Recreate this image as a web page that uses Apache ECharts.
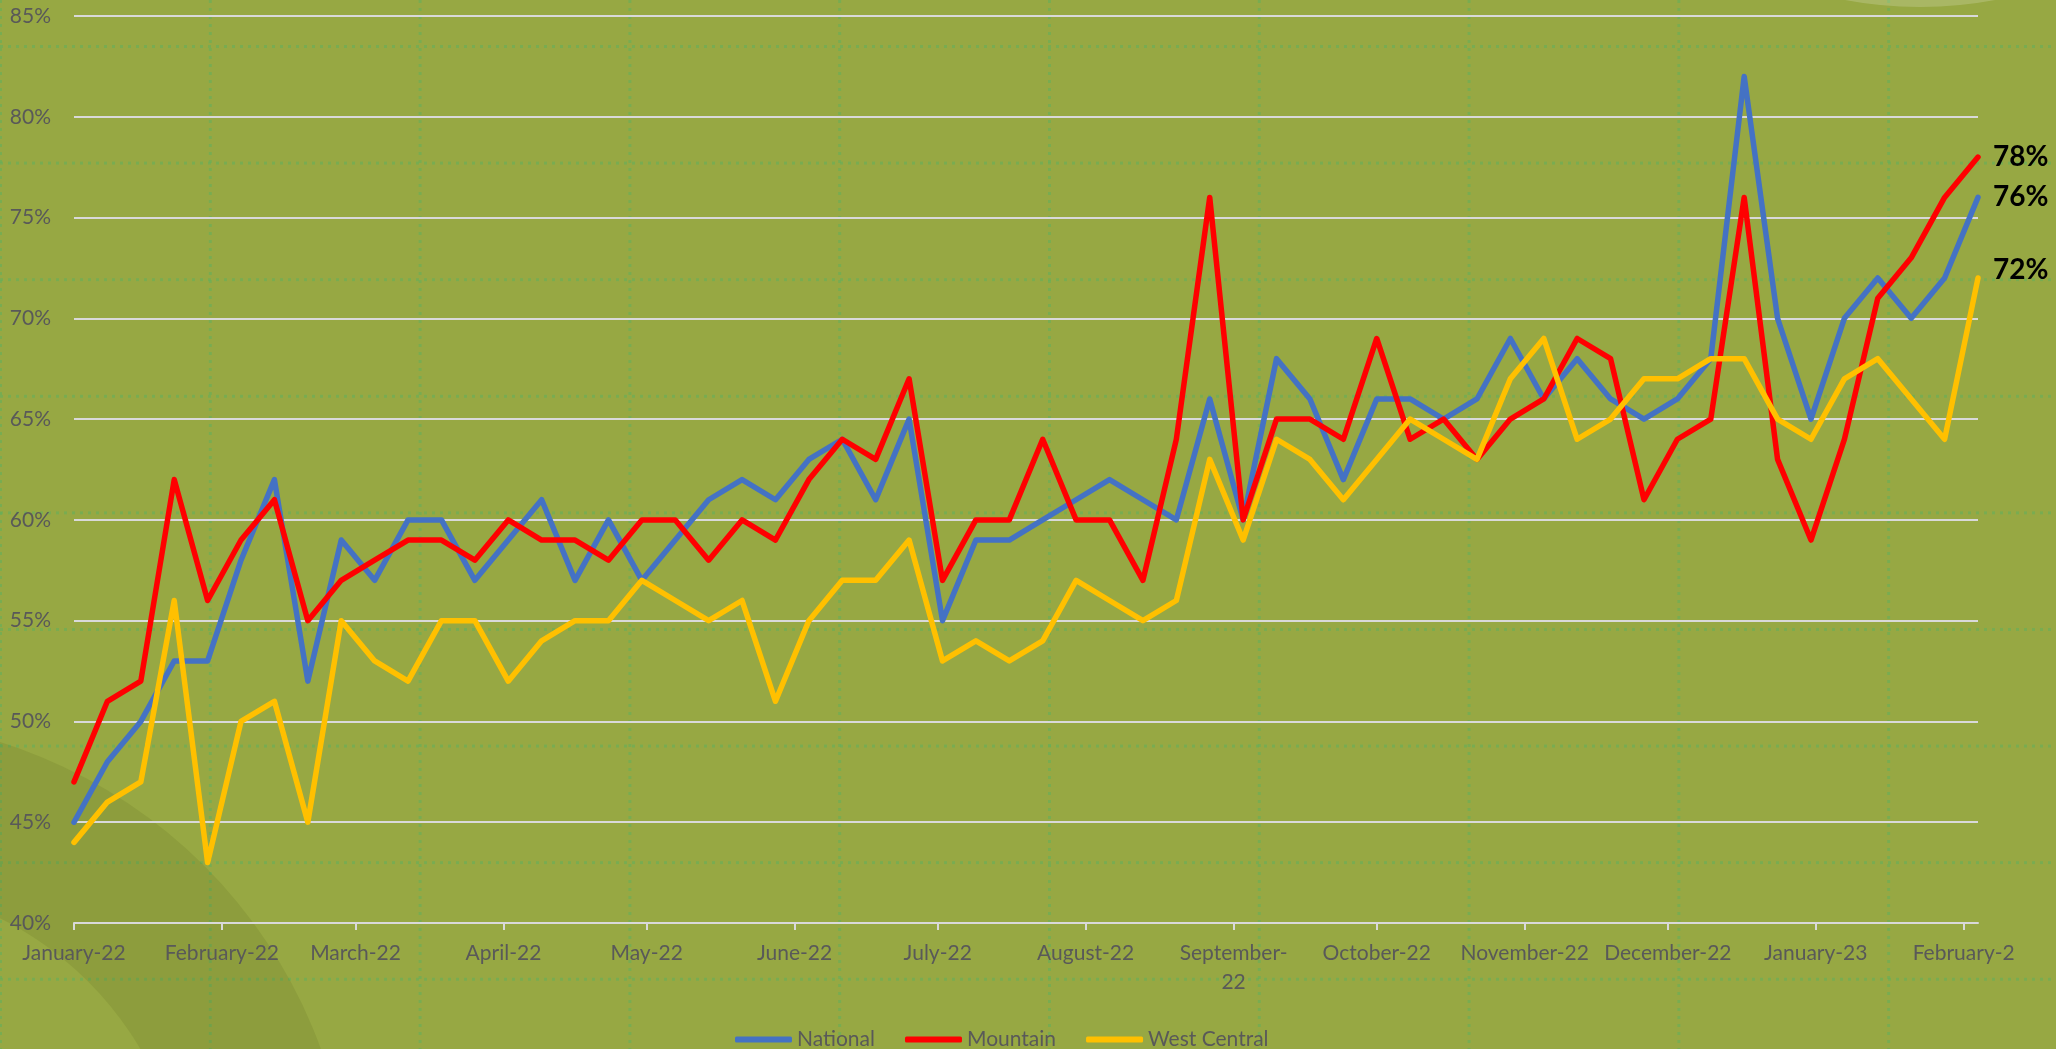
<!DOCTYPE html>
<html>
<head>
<meta charset="utf-8">
<script src="https://cdn.jsdelivr.net/npm/echarts@6/dist/echarts.min.js"></script>
<style>
  html, body { margin: 0; padding: 0; }
  #chart {
    width: 2056px;
    height: 1049px;
    background-color: #97A843;
    background-image:
      radial-gradient(circle at 1.5px 1.5px, rgba(100,175,90,0.6) 1.4px, transparent 1.9px),
      radial-gradient(circle at 1.5px 1.5px, rgba(100,175,90,0.6) 1.4px, transparent 1.9px);
    background-size: 209.8px 8px, 8px 116.6px;
    background-position: -1px 0, 0 45px;
  }
</style>
</head>
<body>
<div id="chart"></div>
<script>
// weekly readings, Jan 2022 - Feb 2023
var weeks = [
  '2022-01-01', '2022-01-08', '2022-01-15', '2022-01-22', '2022-01-29',
  '2022-02-05', '2022-02-12', '2022-02-19', '2022-02-26',
  '2022-03-05', '2022-03-12', '2022-03-19', '2022-03-26',
  '2022-04-02', '2022-04-09', '2022-04-16', '2022-04-23', '2022-04-30',
  '2022-05-07', '2022-05-14', '2022-05-21', '2022-05-28',
  '2022-06-04', '2022-06-11', '2022-06-18', '2022-06-25',
  '2022-07-02', '2022-07-09', '2022-07-16', '2022-07-23', '2022-07-30',
  '2022-08-06', '2022-08-13', '2022-08-20', '2022-08-27',
  '2022-09-03', '2022-09-10', '2022-09-17', '2022-09-24',
  '2022-10-01', '2022-10-08', '2022-10-15', '2022-10-22', '2022-10-29',
  '2022-11-05', '2022-11-12', '2022-11-19', '2022-11-26',
  '2022-12-03', '2022-12-10', '2022-12-17', '2022-12-24', '2022-12-31',
  '2023-01-07', '2023-01-14', '2023-01-21', '2023-01-28',
  '2023-02-04'
];

var national = [45, 48, 50, 53, 53, 58, 62, 52, 59, 57, 60, 60, 57, 59, 61,
  57, 60, 57, 59, 61, 62, 61, 63, 64, 61, 65, 55, 59,
  59, 60, 61, 62, 61, 60, 66, 60, 68, 66, 62, 66,
  66, 65, 66, 69, 66, 68, 66, 65, 66, 68, 82, 70, 65, 70, 72, 70, 72, 76];

var mountain = [47, 51, 52, 62, 56, 59, 61, 55, 57, 58, 59, 59, 58, 60, 59,
  59, 58, 60, 60, 58, 60, 59, 62, 64, 63, 67, 57, 60,
  60, 64, 60, 60, 57, 64, 76, 60, 65, 65, 64, 69,
  64, 65, 63, 65, 66, 69, 68, 61, 64, 65, 76, 63, 59, 64, 71, 73, 76, 78];

var westCentral = [44, 46, 47, 56, 43, 50, 51, 45, 55, 53, 52, 55, 55, 52, 54,
  55, 55, 57, 56, 55, 56, 51, 55, 57, 57, 59, 53, 54,
  53, 54, 57, 56, 55, 56, 63, 59, 64, 63, 61, 63,
  65, 64, 63, 67, 69, 64, 65, 67, 67, 68, 68, 65, 64, 67, 68, 66, 64, 72];

// month ticks on the date axis, with the text as it shows on the chart
var monthTicks = ['2022-01-01', '2022-02-01', '2022-03-01', '2022-04-01', '2022-05-01',
  '2022-06-01', '2022-07-01', '2022-08-01', '2022-09-01', '2022-10-01', '2022-11-01',
  '2022-12-01', '2023-01-01', '2023-02-01'];
var monthLabels = ['January-22', 'February-22', 'March-22', 'April-22', 'May-22',
  'June-22', 'July-22', 'August-22', 'September-\n22', 'October-22', 'November-22',
  'December-22', 'January-23', 'February-2'];

var seriesNames = ['National', 'Mountain', 'West Central'];
var seriesColors = ['#4472C4', '#FF0000', '#FFC000'];

var chart = echarts.init(document.getElementById('chart'));

var tickTimes = monthTicks.map(function (d) { return Date.parse(d); });

function toPoints(values) {
  return weeks.map(function (d, i) { return [Date.parse(d), values[i]]; });
}

var FONT = 'Lato';

function makeSeries(name, values, color, labelOffset) {
  return {
    name: name,
    type: 'line',
    data: toPoints(values),
    showSymbol: false,
    symbol: 'none',
    color: color,
    lineStyle: { width: 5.5, color: color, cap: 'round', join: 'round' },
    endLabel: {
      show: true,
      formatter: function (p) { return p.value[1] + '%'; },
      color: '#000',
      fontWeight: 'bold',
      fontSize: 28,
      fontFamily: FONT,
      distance: 15,
      offset: labelOffset
    }
  };
}

chart.setOption({
  animation: false,
  textStyle: { fontFamily: FONT },
  graphic: [
    {
      type: 'ring',
      z: -10,
      silent: true,
      shape: { cx: -150, cy: 1220, r: 501, r0: 337 },
      style: { fill: 'rgba(60,70,10,0.1)' }
    },
    {
      type: 'circle',
      z: -10,
      silent: true,
      shape: { cx: 1920, cy: -400, r: 407 },
      style: { fill: 'rgba(255,255,255,0.18)' }
    }
  ],
  grid: {
    left: 74,
    right: 78,
    top: 16,
    bottom: 126,
    containLabel: false
  },
  legend: {
    data: seriesNames,
    left: 730,
    top: 1024,
    icon: 'roundRect',
    itemWidth: 57,
    itemHeight: 6,
    itemGap: 30,
    textStyle: { color: '#595959', fontSize: 21, fontFamily: FONT }
  },
  xAxis: {
    type: 'value',
    min: Date.parse(weeks[0]),
    max: Date.parse(weeks[weeks.length - 1]),
    axisLine: { show: true, lineStyle: { color: '#D9D9D9', width: 2 } },
    axisTick: {
      show: true,
      customValues: tickTimes,
      length: 7,
      lineStyle: { color: '#D9D9D9', width: 2 }
    },
    axisLabel: {
      customValues: tickTimes,
      formatter: function (v) {
        var i = tickTimes.indexOf(v);
        return i >= 0 ? monthLabels[i] : '';
      },
      color: '#595959',
      fontSize: 21,
      fontFamily: FONT,
      lineHeight: 29,
      margin: 16
    },
    splitLine: { show: false }
  },
  yAxis: {
    type: 'value',
    min: 40,
    max: 85,
    interval: 5,
    axisLine: { show: false },
    axisTick: { show: false },
    axisLabel: {
      formatter: '{value}%',
      color: '#595959',
      fontSize: 21,
      fontFamily: FONT,
      margin: 23
    },
    splitLine: { lineStyle: { color: '#D9D9D9', width: 2 } }
  },
  series: [
    makeSeries(seriesNames[0], national, seriesColors[0], [0, 0]),
    makeSeries(seriesNames[1], mountain, seriesColors[1], [0, 0]),
    makeSeries(seriesNames[2], westCentral, seriesColors[2], [0, -8])
  ]
});

window.addEventListener('resize', function () {
  chart.resize();
});
</script>
</body>
</html>
